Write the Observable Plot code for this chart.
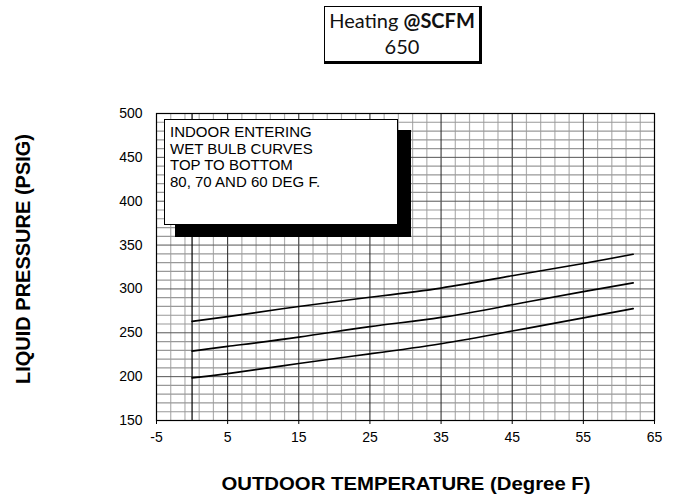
<!DOCTYPE html>
<html>
<head>
<meta charset="utf-8">
<script src="https://cdn.jsdelivr.net/npm/d3@7"></script>
<script src="https://cdn.jsdelivr.net/npm/@observablehq/plot@0.6"></script>
<style>
  html, body { margin: 0; padding: 0; background: #fff; }
  #wrap { position: relative; width: 673px; height: 500px; overflow: hidden; font-family: "Liberation Sans", Arial, sans-serif; }
  #wrap svg { position: absolute; left: 0; top: 0; }
  .titlebox { position: absolute; left: 324px; top: 6px; width: 154px; height: 54px; border: 1px solid #000; border-right-width: 3px; border-bottom-width: 3px; background: #fff; font-family: Lato, "Open Sans", sans-serif; font-size: 20px; color: #111; text-align: center; line-height: 26px; box-sizing: content-box; }
  .shadow { position: absolute; left: 175px; top: 130px; width: 236px; height: 107px; background: #000; }
  .note { position: absolute; left: 164px; top: 119px; width: 234px; height: 106px; border: 1px solid #000; background: #fff; font-size: 15px; line-height: 16.7px; padding: 4px 0 0 5px; box-sizing: border-box; color: #000; }
  .xlabel { position: absolute; left: 406px; top: 484px; transform: translate(-50%, -50%) scaleX(1.13); font-weight: bold; font-size: 18px; color: #000; white-space: nowrap; }
  .ylabel { position: absolute; left: 23px; top: 259px; transform: translate(-50%, -50%) rotate(-90deg); font-weight: bold; font-size: 20px; color: #000; white-space: nowrap; }
</style>
</head>
<body>
<div id="wrap"></div>
<script>
// ---- data ----
const titleLine1 = "Heating";
const titleLine1Bold = "@SCFM";
const titleLine2 = "650";
const noteLines = ["INDOOR ENTERING", "WET BULB CURVES", "TOP TO BOTTOM", "80, 70 AND 60 DEG F."];
const xTitle = "OUTDOOR TEMPERATURE (Degree F)";
const yTitle = "LIQUID PRESSURE (PSIG)";

const xTicks = [-5, 5, 15, 25, 35, 45, 55, 65];
const yTicks = [150, 200, 250, 300, 350, 400, 450, 500];

const temps = [0, 5, 15, 25, 35, 45, 55, 62];
const wb80 = [263, 268.5, 280, 290.5, 301, 315, 329, 339.5];
const wb70 = [229, 234.5, 245, 257, 267.5, 282, 297, 307];
const wb60 = [198.5, 203.5, 215, 226, 237.5, 252, 267, 277.5];
const seriesNames = ["80", "70", "60"];
const startLine = [0];

// ---- derived tables ----
const rows = [];
[wb80, wb70, wb60].forEach((vals, i) => {
  temps.forEach((t, j) => rows.push({series: seriesNames[i], temp: t, psig: vals[j]}));
});
const minorX = d3.range(-5, 65.001, 2).filter(v => !xTicks.includes(v));
const minorY = d3.range(150, 500.001, 10).filter(v => !yTicks.includes(v));

const chart = Plot.plot({
  width: 673,
  height: 500,
  marginLeft: 156,
  marginRight: 19,
  marginTop: 113,
  marginBottom: 80,
  style: {fontFamily: "'Liberation Sans', Arial, sans-serif", fontSize: "14px", background: "transparent", color: "#000", overflow: "visible"},
  x: {domain: [-5, 65], ticks: xTicks, tickSize: 4, tickPadding: 8, tickFormat: d => String(d), label: null},
  y: {domain: [150, 500], ticks: yTicks, tickSize: 0, tickPadding: 14, tickFormat: d => String(d), label: null},
  marks: [
    Plot.ruleX(minorX, {stroke: "#b0b0b0", strokeWidth: 1.2}),
    Plot.ruleY(minorY, {stroke: "#999", strokeWidth: 1.2}),
    Plot.ruleX(xTicks, {stroke: "#222", strokeWidth: 1}),
    Plot.ruleY(yTicks, {stroke: "#555", strokeWidth: 1}),
    Plot.ruleX(startLine, {stroke: "#000", strokeWidth: 1.2}),
    Plot.line(rows, {x: "temp", y: "psig", z: "series", stroke: "#000", strokeWidth: 1.7, curve: "natural"}),
    Plot.frame({stroke: "#000", strokeWidth: 1.2})
  ]
});

const wrap = document.getElementById("wrap");
wrap.appendChild(chart);

const tb = document.createElement("div");
tb.className = "titlebox";
tb.innerHTML = `<div>${titleLine1} <b>${titleLine1Bold}</b></div><div>${titleLine2}</div>`;
wrap.appendChild(tb);

const sh = document.createElement("div");
sh.className = "shadow";
wrap.appendChild(sh);

const note = document.createElement("div");
note.className = "note";
note.innerHTML = noteLines.map(s => `<div>${s}</div>`).join("");
wrap.appendChild(note);

const xl = document.createElement("div");
xl.className = "xlabel";
xl.textContent = xTitle;
wrap.appendChild(xl);

const yl = document.createElement("div");
yl.className = "ylabel";
yl.textContent = yTitle;
wrap.appendChild(yl);
</script>
</body>
</html>
